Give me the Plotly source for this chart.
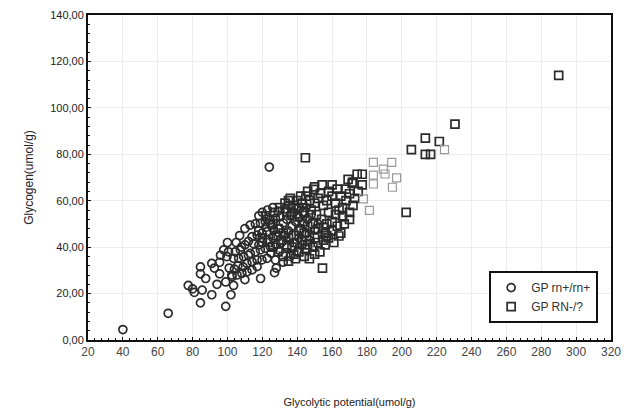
import plotly.graph_objects as go

# GP rn+/rn+ (circles)
rn_plus_x = [40, 66, 77.5, 80, 81, 84.5, 84.5, 87.5, 85.5, 84.5, 91, 91, 92.5, 95.5, 95.5, 94, 99, 99, 102, 103.5,
             102.5, 119, 124, 97.8, 100.6, 104.5, 107.4, 99.7, 103.5, 106.4, 109.3, 102.6, 105.5, 108.3, 111.2, 114.1,
             117, 111.2, 114.1, 117, 119.8, 122.7, 113.1, 116, 118.9, 121.7, 124.6, 114.1, 117, 119.8, 122.7, 126.5,
             118.9, 121.7, 124.6, 127.5, 130.3, 127.5, 110, 112, 108, 115, 120, 123, 126, 129, 128, 131, 133, 135, 130,
             132, 134, 136, 138, 140, 137, 139, 141, 143, 145, 142, 144, 146, 148, 125, 130, 134, 138, 141, 136, 140,
             132, 128, 106, 109, 101, 104, 96, 110, 113, 116, 120, 123, 126, 129, 133, 135, 118, 145, 147, 150, 152,
             143, 127, 112, 107, 105, 100, 118, 122, 125, 110]
rn_plus_y = [4.5, 11.5, 23.5, 22, 20.5, 31.5, 28.5, 26.5, 21.5, 16, 19.5, 33, 31, 33.5, 28.5, 24, 25, 14.5, 19.5, 23.5,
             28, 26.5, 74.5, 38.8, 38, 38, 38.8, 35.9, 35.2, 35.2, 35.9, 27.3, 28, 28.7, 29.4, 30.2,
             31.6, 33, 33.7, 34.5, 34.5, 35.2, 37.3, 38, 38.8, 39.5, 40.2, 44.5, 45.2, 46, 46.7, 47.4,
             50.3, 51, 51.7, 52.4, 53.1, 34.5, 41, 42.5, 40, 41.5, 42, 43, 44, 44.5, 41, 42, 45, 47, 48,
             50.5, 52, 53.5, 55, 56.5, 49, 51, 53, 55, 57, 48, 50, 52, 54, 37.5, 38.5, 40, 42, 44, 36, 38,
             33.5, 31, 32, 31.5, 31, 30.5, 36.5, 48, 49.5, 50, 55, 56, 57, 55.5, 56.5, 58, 53.5, 46, 43, 47.5, 50,
             41, 29, 36.5, 45, 42, 42, 41, 48.5, 49.5, 26]

# GP RN-/? (squares)
rn_minus_x = [290, 230.5, 213.5, 221.5, 205.5, 213.5, 216.5, 202.5, 144.7, 163.9, 174.4, 177.3, 169.2, 171.5, 177.3,
              154.3, 160, 149.5, 153.3, 165, 168, 170, 172, 166, 162, 160, 157, 155, 158, 162, 166, 170, 173, 175,
              168, 163, 158, 152, 150, 147, 145, 143, 141, 144, 148, 151, 154, 157, 160, 163, 167, 170, 165, 160,
              156, 152, 149, 146, 143, 140, 137, 134, 138, 135, 142, 146, 150, 155, 150, 147, 144, 141, 138, 135,
              132, 129, 126, 124, 122, 127, 130, 133, 136, 140, 128, 131, 134, 137, 140, 143, 146, 149, 152, 155,
              158, 161, 138, 141, 144, 147, 150, 153, 135, 132, 129, 126, 123, 120, 118, 154.5, 157, 164, 172,
              156, 139, 145]
rn_minus_y = [114, 93, 87, 85.5, 82, 80, 80, 55, 78.5, 44.8, 71.4, 71.4, 69.2, 67.5, 66.8,
              66.8, 66.8, 64.9, 63.2, 62, 60, 63, 58, 57, 59, 62, 60, 58, 55, 54, 53, 55, 61, 64,
              65, 65, 64, 61, 59, 60, 62, 59, 57, 55, 56, 54, 52, 50, 51, 49, 50, 52, 46, 47,
              46, 48, 50, 49, 51, 53, 54, 55, 58, 60, 62, 64, 66, 48.5, 44, 45, 46, 47, 45, 44,
              46, 48, 50, 52, 53.5, 55, 57, 59, 61, 60, 45, 43, 41, 40, 42, 43, 41, 40, 42, 43,
              44, 42, 37, 38, 36, 35, 37, 38, 34, 36, 38, 40, 42, 44, 47, 31, 45, 56, 68,
              41, 35, 39]

# lighter-printed squares of the RN-/? group
rn_minus_light_x = [224.5, 183.7, 194.2, 189.4, 190.4, 183.7, 183.7, 197, 194.6, 178, 181.4]
rn_minus_light_y = [82, 76.5, 76.5, 73.6, 71.5, 71, 67.2, 69.8, 65.8, 60.8, 55.8]

x_ticks = [20, 40, 60, 80, 100, 120, 140, 160, 180, 200, 220, 240, 260, 280, 300, 320]
y_ticks = [0, 20, 40, 60, 80, 100, 120, 140]
y_tick_text = ["0,00", "20,00", "40,00", "60,00", "80,00", "100,00", "120,00", "140,00"]

fig = go.Figure()
fig.add_trace(go.Scatter(
    x=rn_plus_x, y=rn_plus_y, mode="markers", name="GP rn+/rn+",
    marker=dict(symbol="circle-open", size=8, color="#2b2b2b", line=dict(width=1.7, color="#2b2b2b")),
))
fig.add_trace(go.Scatter(
    x=rn_minus_x, y=rn_minus_y, mode="markers", name="GP RN-/?",
    marker=dict(symbol="square-open", size=8, color="#2b2b2b", line=dict(width=1.7, color="#2b2b2b")),
))
fig.add_trace(go.Scatter(
    x=rn_minus_light_x, y=rn_minus_light_y, mode="markers", name="GP RN-/? ", showlegend=False,
    marker=dict(symbol="square-open", size=8, color="#9a9a9a", line=dict(width=1.2, color="#9a9a9a")),
))

# page body has an 8px default margin, so the figure is sized to the remaining area
fig.update_layout(
    width=621, height=403,
    margin=dict(l=80, r=18, t=7, b=71),
    paper_bgcolor="white", plot_bgcolor="white",
    font=dict(family="Liberation Sans, Arial, sans-serif", color="#333"),
    showlegend=True,
    legend=dict(
        x=0.767, y=0.212, xanchor="left", yanchor="top",
        bordercolor="#111", borderwidth=2, bgcolor="white",
        font=dict(size=12, color="#333"),
        itemwidth=30, tracegroupgap=0, entrywidth=88,
    ),
)
fig.update_xaxes(
    automargin=False,
    range=[20, 320], tickvals=x_ticks, ticktext=[str(v) for v in x_ticks],
    showline=True, linecolor="#111", linewidth=2, mirror=True,
    showgrid=True, gridcolor="#ececec", gridwidth=1, zeroline=False,
    ticks="inside", ticklen=3, tickcolor="#111",
    minor=dict(ticks="inside", ticklen=2, tickcolor="#111", dtick=4, showgrid=False),
    tickfont=dict(size=12, color="#444"),
    title=dict(text="Glycolytic potential(umol/g)", font=dict(size=11, color="#222"), standoff=40),
)
fig.update_yaxes(
    automargin=False,
    range=[0, 140], tickvals=y_ticks, ticktext=y_tick_text,
    showline=True, linecolor="#111", linewidth=2, mirror=True,
    showgrid=True, gridcolor="#ececec", gridwidth=1, zeroline=False,
    ticks="inside", ticklen=3, tickcolor="#111",
    minor=dict(ticks="inside", ticklen=2, tickcolor="#111", dtick=4, showgrid=False),
    tickfont=dict(size=11, color="#222"),
    title=dict(text="Glycogen(umol/g)", font=dict(size=12, color="#222"), standoff=14),
)

fig.write_html("out.html")
